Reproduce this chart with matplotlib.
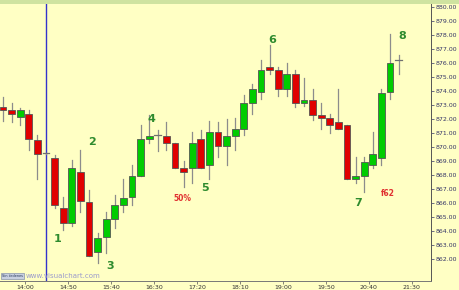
import matplotlib.pyplot as plt
from matplotlib.patches import Rectangle

# 10-minute bars
opens = [872.88, 872.64, 872.12, 872.36, 870.50, 869.55, 869.24, 865.62, 864.59, 868.19,
         866.09, 862.50, 863.55, 864.83, 865.86, 866.41, 867.93, 870.55, 870.86, 870.79,
         870.31, 868.48, 868.48, 870.55, 868.71, 871.05, 870.07, 870.81, 871.33, 873.17,
         873.95, 875.74, 875.50, 874.19, 875.21, 873.17, 873.40, 872.33, 872.09, 871.81,
         871.57, 867.69, 867.93, 868.71, 869.24, 873.95, 876.26]
highs = [873.59, 873.12, 872.79, 872.64, 870.86, 869.60, 869.43, 866.41, 869.07, 869.79,
         866.93, 863.83, 865.38, 866.57, 867.69, 868.71, 871.57, 872.30, 871.20, 871.81,
         870.31, 869.02, 871.10, 871.20, 871.86, 871.81, 871.98, 872.05, 873.71, 874.50,
         876.26, 877.29, 875.74, 876.02, 875.50, 874.95, 874.19, 873.12, 872.40, 874.19,
         871.57, 869.26, 869.26, 871.05, 874.19, 878.07, 876.57]
lows = [871.88, 871.81, 871.57, 869.79, 867.69, 869.50, 865.62, 864.07, 864.36, 865.38,
        862.24, 861.74, 862.45, 864.19, 865.38, 865.86, 867.93, 870.26, 869.70, 869.79,
        868.48, 867.17, 867.45, 868.48, 867.69, 869.26, 868.71, 869.79, 870.86, 872.36,
        873.41, 875.21, 873.64, 873.64, 872.88, 872.93, 871.93, 871.33, 871.02, 871.33,
        867.69, 867.45, 866.81, 868.48, 868.71, 873.41, 875.21]
closes = [872.69, 872.38, 872.64, 870.55, 869.50, 869.55, 865.86, 864.59, 868.48, 866.14,
          862.24, 863.52, 864.83, 865.86, 866.38, 867.93, 870.55, 870.79, 870.86, 870.31,
          868.48, 868.24, 870.31, 868.48, 871.05, 870.07, 870.79, 871.29, 873.17, 874.19,
          875.50, 875.50, 874.19, 875.21, 873.17, 873.40, 872.33, 872.09, 871.57, 871.33,
          867.69, 867.93, 868.95, 869.48, 873.90, 876.02, 876.26]

time_labels = ['14:00', '14:50', '15:40', '16:30', '17:20', '18:10', '19:00', '19:50', '20:40', '21:30']
price_ticks = list(range(862, 881))

# wave count labels (bar position, price, text)
wave_x = [6.3, 10.35, 12.45, 17.3, 23.5, 31.3, 41.3, 46.4, 20.9, 44.8]
wave_y = [863.4, 870.35, 861.5, 872.0, 867.05, 877.65, 866.0, 877.95, 866.35, 866.65]
wave_txt = ['1', '2', '3', '4', '5', '6', '7', '8', '50%', 'f62']

bg = '#FFFFC4'
fig = plt.figure(figsize=(4.6, 2.9), dpi=100, facecolor=bg)
ax = fig.add_axes([0, 0.031, 0.937, 0.958])
ax.set_facecolor(bg)

w = 0.8
for i in range(len(opens)):
    o, h, l, c = opens[i], highs[i], lows[i], closes[i]
    ax.plot([i, i], [l, h], color='#8C8C8C', lw=0.9, zorder=2)
    if o == c:
        ax.plot([i - w / 2, i + w / 2], [o, o], color='#707070', lw=0.9, zorder=3)
        continue
    col = '#00CC00' if c > o else '#E00000'
    ax.add_patch(Rectangle((i - w / 2, min(o, c)), w, abs(c - o), facecolor=col,
                           edgecolor='#555555', lw=0.6, zorder=3))

# session start
ax.axvline(5.0, color='#3333CC', lw=1.0, zorder=1)

for x, y, t in zip(wave_x, wave_y, wave_txt):
    if len(t) == 1:
        ax.text(x, y, t, color='#2E8B2E', fontsize=8, fontweight='bold', ha='center', va='center')
    else:
        ax.text(x, y, t, color='#E03030', fontsize=5.5, fontweight='bold', ha='center', va='center')

ax.set_xlim(-0.35, 49.77)
ax.set_ylim(860.43, 880.29)

ax.set_xticks([2.55 + 5 * k for k in range(len(time_labels))])
ax.set_xticklabels(time_labels)
ax.set_yticks(price_ticks)
ax.set_yticklabels(['%.2f' % p for p in price_ticks])
ax.yaxis.tick_right()
ax.tick_params(axis='y', labelsize=4.5, labelcolor='#333366', length=2, width=0.5,
               pad=1, color='#333366')
ax.tick_params(axis='x', labelsize=4.5, labelcolor='#333333', length=2, width=0.5,
               pad=1, color='#555555')
for s in ['left', 'top']:
    ax.spines[s].set_visible(False)
ax.spines['right'].set_color('#555555')
ax.spines['bottom'].set_color('#777777')
ax.spines['right'].set_linewidth(0.7)
ax.spines['bottom'].set_linewidth(0.7)

# header strip and footer marks
fig.patches.append(Rectangle((0, 0.986), 1, 0.014, transform=fig.transFigure,
                             facecolor='#CFE3A0', edgecolor='none'))
fig.text(0.005, 0.048, 'Sin órdenes', fontsize=2.5, color='#223355', va='center',
         bbox=dict(facecolor='#C8D0E0', edgecolor='#7080A0', lw=0.4, pad=0.8))
fig.text(0.055, 0.048, 'www.visualchart.com', fontsize=5, color='#9A9ACC', va='center')

fig.savefig('out.png', dpi=100, facecolor=bg)
